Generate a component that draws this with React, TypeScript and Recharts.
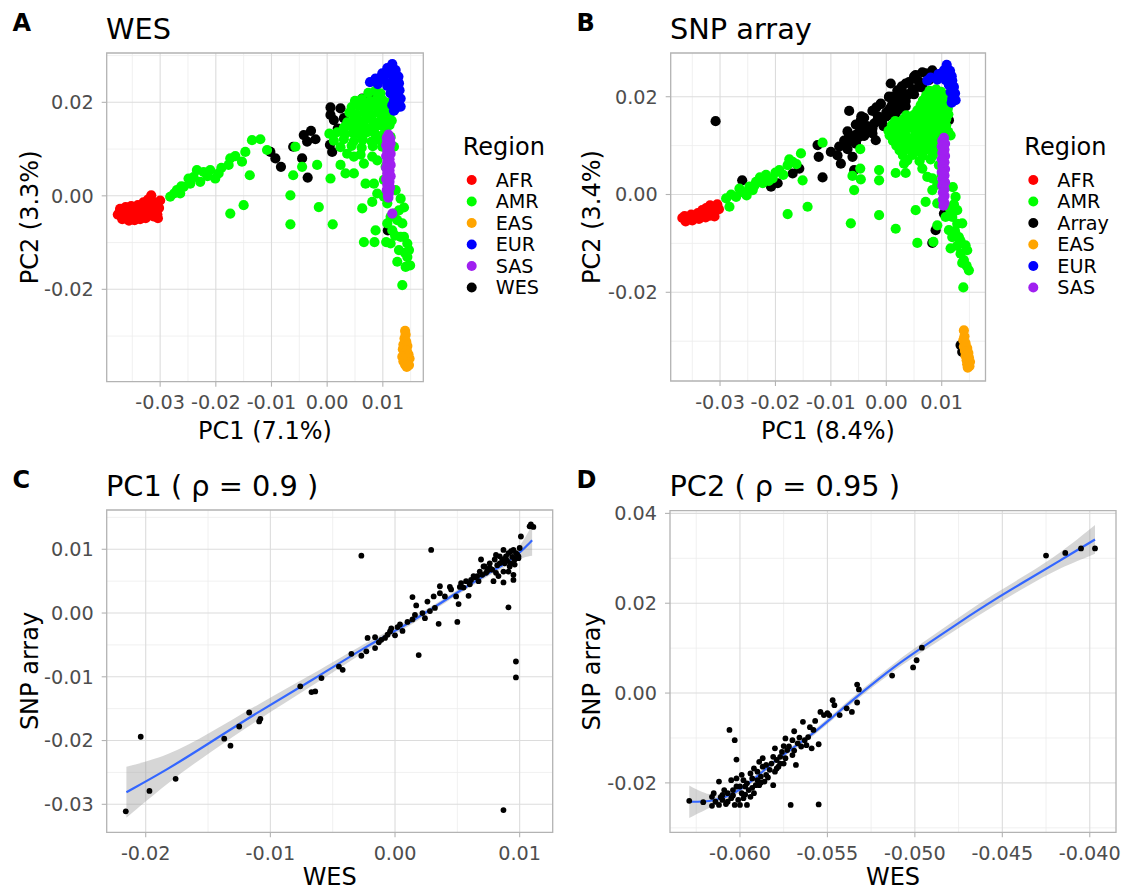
import { ScatterChart, ComposedChart, Scatter, Line, Area, XAxis, YAxis, CartesianGrid, ReferenceArea } from 'recharts'

type Pt = [number, number]

const FONT = 'DejaVu Sans'
const BORDER = '#b3b3b3'
const TICK_TEXT = '#4d4d4d'

const regionColor: Record<string, string> = {
  AFR: '#ff0000',
  AMR: '#00ff00',
  EAS: '#ffa500',
  EUR: '#0000ff',
  SAS: '#a020f0',
  WES: '#000000',
  Array: '#000000',
}

// ---- tick values / labels ----
const pcaXTicks = [-0.03, -0.02, -0.01, 0, 0.01]
const pcaXLabels = ['-0.03', '-0.02', '-0.01', '0.00', '0.01']
const pcaYTicks = [-0.02, 0, 0.02]
const pcaYLabels = ['-0.02', '0.00', '0.02']
const pcaXMinor = [-0.035, -0.025, -0.015, -0.005, 0.005, 0.015]

const c1XTicks = [-0.02, -0.01, 0, 0.01]
const c1XLabels = ['-0.02', '-0.01', '0.00', '0.01']
const c1YTicks = [-0.03, -0.02, -0.01, 0, 0.01]
const c1YLabels = ['-0.03', '-0.02', '-0.01', '0.00', '0.01']

const c2XTicks = [-0.06, -0.055, -0.05, -0.045, -0.04]
const c2XLabels = ['-0.060', '-0.055', '-0.050', '-0.045', '-0.040']
const c2YTicks = [-0.02, 0, 0.02, 0.04]
const c2YLabels = ['-0.02', '0.00', '0.02', '0.04']

// ---- panel A: WES PCA ----
const wesLegend = ['AFR', 'AMR', 'EAS', 'EUR', 'SAS', 'WES']

const wesWES: Pt[] = [
  [0.0006, 0.0189], [0.0024, 0.0187], [0.0012, 0.0162], [0.0006, 0.0173], [0.003, 0.0166], [0.0063, 0.0208],
  [-0.0042, 0.013], [-0.0029, 0.0139], [-0.0021, 0.0121], [-0.0036, 0.0116], [-0.0061, 0.0105], [-0.0102, 0.0094],
  [-0.0093, 0.008], [-0.0083, 0.0062], [-0.0045, 0.008], [-0.0035, 0.0039], [0.0005, 0.0109], [0.0009, 0.0094],
  [0.0019, 0.0144], [0.0109, -0.0074], [0.0078, 0.0212],
]

const wesAMR: Pt[] = [
  [-0.0282, -0.0002], [-0.027, 0.0012], [-0.0258, 0.0019], [-0.0249, 0.0037], [-0.0234, 0.0055], [-0.0222, 0.0051],
  [-0.021, 0.0055], [-0.0195, 0.0048], [-0.0228, 0.003], [-0.0264, 0.0005], [-0.0246, 0.0026], [-0.0201, 0.0037],
  [-0.0174, 0.008], [-0.0177, 0.0066], [-0.0147, 0.0094], [-0.0153, 0.0073], [-0.0135, 0.0119], [-0.012, 0.0121],
  [-0.0108, 0.0098], [-0.0139, 0.0044], [-0.015, -0.002], [-0.0174, -0.0038], [-0.0066, 0.0001], [-0.0066, -0.0061],
  [-0.0057, 0.0105], [-0.0061, 0.0044], [-0.0045, 0.0062], [-0.0018, 0.0066], [-0.0015, -0.0024], [0.0006, 0.0037],
  [0.001, -0.0061], [0.0024, 0.0066], [0.0033, 0.0048], [0.0048, 0.0048], [0.0066, 0.0069], [0.0069, 0.0026],
  [0.0063, -0.0027], [0.0084, 0.0026], [0.0087, -0.0074], [0.0066, -0.0099], [0.0085, -0.0099], [0.0106, -0.0099],
  [0.0114, -0.0102], [0.0126, -0.0141], [0.0135, -0.0191], [0.0141, -0.0152], [0.0149, -0.0149], [0.0147, -0.0116],
  [0.0138, -0.0088], [0.0135, -0.0059], [0.0129, -0.0031], [0.0132, -0.0006], [0.0123, 0.0012], [0.0114, -0.0045],
  [0.0108, -0.0016], [0.0081, -0.0013], [0.009, 0.0005], [0.0102, -0.0002], [0.0108, -0.0059], [0.0117, -0.0074],
  [0.0132, -0.0088], [0.0144, -0.0102], [0.0144, -0.0131], [0.0129, -0.0116], [0.012, -0.0038], [0.0099, 0.0105],
  [0.0081, 0.0084], [0.0105, 0.0062], [0.0102, 0.0034], [0.009, 0.0076], [0.0048, 0.0084], [0.012, 0.0105],
  [0.0114, 0.0126], [-0.0275, 0.0005], [-0.0262, 0.002], [-0.024, 0.004], [-0.0215, 0.0042], [-0.019, 0.006],
  [-0.0165, 0.0085], [0.0138, -0.0025], [0.0126, -0.0052], [0.014, -0.0122], [0.0122, -0.0085],
  [0.0074, 0.022], [0.0086, 0.0224], [0.0096, 0.0219],
  [0.005, 0.0203], [0.0062, 0.0207], [0.0076, 0.0202], [0.0088, 0.0206], [0.01, 0.0204], [0.0108, 0.0199],
  [0.0044, 0.019], [0.0056, 0.0193], [0.0066, 0.0188], [0.0078, 0.0192], [0.009, 0.0189], [0.0102, 0.0193], [0.0112, 0.0187],
  [0.004, 0.0178], [0.0054, 0.0174], [0.0068, 0.0177], [0.008, 0.0173], [0.0092, 0.0178], [0.0104, 0.0175], [0.0114, 0.0179],
  [0.0036, 0.0157], [0.0048, 0.0163], [0.0058, 0.016], [0.007, 0.0164], [0.0082, 0.016], [0.0094, 0.0159], [0.0106, 0.0164], [0.0116, 0.0161],
  [0.003, 0.0146], [0.0042, 0.015], [0.0054, 0.0146], [0.0066, 0.0149], [0.0078, 0.0145], [0.009, 0.015], [0.0102, 0.0147], [0.0112, 0.0151],
  [0.0004, 0.0133], [0.0018, 0.0136], [0.0032, 0.0132], [0.0046, 0.0135], [0.006, 0.0131], [0.0072, 0.0136], [0.0086, 0.0133], [0.01, 0.013],
  [0.0012, 0.0118], [0.003, 0.0121], [0.0048, 0.0117], [0.0064, 0.012], [0.008, 0.0116], [0.0094, 0.0119],
  [0.0024, 0.0104], [0.0044, 0.0107], [0.0062, 0.0103], [0.0082, 0.0106],
  [0.0036, 0.009], [0.006, 0.0088],
]

const wesAFR: Pt[] = [
  [-0.0373, -0.0036], [-0.037, -0.0044], [-0.0366, -0.0032], [-0.0363, -0.0042], [-0.036, -0.0049], [-0.0357, -0.0035],
  [-0.0354, -0.0043], [-0.035, -0.0029], [-0.0348, -0.004], [-0.0345, -0.0047], [-0.0342, -0.0033], [-0.0338, -0.0041],
  [-0.0335, -0.0026], [-0.0332, -0.0036], [-0.0328, -0.0044], [-0.0325, -0.003], [-0.0322, -0.0018], [-0.032, -0.0038],
  [-0.0318, -0.0026], [-0.0316, 0.0001], [-0.0314, -0.0012], [-0.031, -0.0032], [-0.0308, -0.002], [-0.0305, -0.004],
  [-0.0302, -0.0026], [-0.03, -0.001], [-0.033, -0.0014], [-0.034, -0.002], [-0.0376, -0.004], [-0.0372, -0.0028],
  [-0.0368, -0.005], [-0.0362, -0.0024], [-0.0356, -0.0053], [-0.0352, -0.0022], [-0.0346, -0.0052], [-0.0336, -0.005],
  [-0.0326, -0.0048], [-0.0322, -0.0008], [-0.0312, -0.0044], [-0.0304, -0.0048],
]

const wesEUR: Pt[] = [
  [0.0117, 0.0282], [0.0108, 0.0273], [0.0123, 0.0269], [0.0099, 0.0262], [0.0114, 0.0261], [0.0128, 0.0255],
  [0.0087, 0.0251], [0.0102, 0.0249], [0.0117, 0.0244], [0.0129, 0.0241], [0.0077, 0.0243], [0.0091, 0.0239],
  [0.0108, 0.0235], [0.012, 0.023], [0.013, 0.0226], [0.0114, 0.0219], [0.0126, 0.0216], [0.0132, 0.0208],
  [0.012, 0.0205], [0.0129, 0.0198], [0.0117, 0.0194], [0.0123, 0.0187], [0.0132, 0.0191], [0.012, 0.0182],
]

const wesSAS: Pt[] = [
  [0.011, 0.0131], [0.0107, 0.0124], [0.0113, 0.0123], [0.0108, 0.0116], [0.0114, 0.0112], [0.0106, 0.0108],
  [0.0112, 0.0102], [0.0108, 0.0096], [0.0114, 0.009], [0.0106, 0.0085], [0.0112, 0.0078], [0.0108, 0.0072],
  [0.0114, 0.0066], [0.0106, 0.006], [0.0112, 0.0054], [0.0108, 0.0048], [0.0114, 0.0042], [0.0106, 0.0036],
  [0.0112, 0.003], [0.0108, 0.0024], [0.0113, 0.0018], [0.0107, 0.0012], [0.0111, 0.0006], [0.0109, 0.0],
  [0.011, -0.0004], [0.0117, -0.0038],
]

const wesEAS: Pt[] = [
  [0.014, -0.0289], [0.0141, -0.0297], [0.0139, -0.0305], [0.0142, -0.0312], [0.0137, -0.0318], [0.0144, -0.0321],
  [0.0136, -0.0328], [0.0143, -0.0331], [0.0139, -0.0337], [0.0146, -0.0339], [0.0135, -0.0344], [0.0142, -0.0347],
  [0.0148, -0.0348], [0.0137, -0.0354], [0.0145, -0.0356], [0.014, -0.0361], [0.0147, -0.0362], [0.0143, -0.0366],
]

// ---- panel B: SNP array PCA ----
const snpLegend = ['AFR', 'AMR', 'Array', 'EAS', 'EUR', 'SAS']

const snpArray: Pt[] = [
  [-0.0308, 0.015], [-0.026, 0.0029], [-0.0208, 0.0016], [-0.0196, 0.0023], [-0.0157, 0.0053], [-0.0169, 0.0043],
  [-0.0124, 0.0101], [-0.0122, 0.0077], [-0.0115, 0.0035], [-0.01, 0.0087], [-0.0088, 0.008], [-0.0082, 0.0063],
  [-0.0061, 0.0077], [-0.0076, 0.011], [-0.0067, 0.0121], [-0.0067, 0.0171], [-0.0058, 0.005], [-0.0046, 0.0152],
  [-0.004, 0.0135], [-0.0025, 0.0125], [-0.0016, 0.0152], [-0.001, 0.0186], [0.0008, 0.0227], [0.0005, 0.0173],
  [0.0011, 0.0186], [0.0023, 0.0196], [0.0035, 0.02], [0.0053, 0.0244], [0.0059, 0.022], [0.0071, 0.0248],
  [0.0083, 0.0254], [0.0047, 0.0213], [-0.0019, 0.0111], [-0.0031, 0.0132], [-0.0049, 0.0118], [-0.0055, 0.0104],
  [-0.0085, 0.0098], [-0.0001, 0.0159], [0.0017, 0.0166], [0.0035, 0.018], [0.0029, 0.021], [0.0041, 0.023],
  [0.0065, 0.0227], [0.0077, 0.0234], [0.0089, -0.0073], [0.0083, -0.0099], [0.0134, -0.0308], [0.0137, -0.0322],
  [0.0104, -0.0039], [0.0113, 0.0152], [0.0012, 0.02], [-0.0005, 0.014], [0.0025, 0.0175],
  [-0.0075, 0.01], [-0.0068, 0.0112], [-0.006, 0.0108], [-0.0055, 0.0122], [-0.0048, 0.0128], [-0.004, 0.012],
  [-0.0035, 0.014], [-0.0028, 0.0132], [-0.0022, 0.0145], [-0.0015, 0.016], [-0.0008, 0.015], [0.0, 0.0168],
  [0.0008, 0.0178], [0.0015, 0.019], [0.0022, 0.0182], [0.003, 0.0198], [0.004, 0.0205], [0.0048, 0.0215],
  [-0.0045, 0.016], [0.0005, 0.02], [0.002, 0.0205],
  [-0.007, 0.0093], [-0.007, 0.0129], [-0.0055, 0.0107], [-0.0055, 0.0143], [-0.004, 0.0121], [-0.004, 0.0157],
  [-0.0025, 0.0135], [-0.0025, 0.0171], [-0.001, 0.0149], [-0.001, 0.0185], [0.0005, 0.0163], [0.0005, 0.0199],
  [0.002, 0.0177], [0.002, 0.0213], [0.0035, 0.0191], [0.0035, 0.0227], [0.005, 0.0205], [0.005, 0.0241],
  [0.0065, 0.0219], [0.0065, 0.025], [0.0058, 0.0232], [0.0028, 0.0221], [-0.0018, 0.0178], [-0.0048, 0.0138],
]

const snpAMR: Pt[] = [
  [-0.0289, -0.0008], [-0.0283, -0.0025], [-0.0271, -0.0005], [-0.0259, 0.0005], [-0.0247, 0.0016], [-0.0235, 0.0026],
  [-0.0217, 0.004], [-0.0205, 0.0033], [-0.0193, 0.005], [-0.0178, 0.006], [-0.0169, 0.0067], [-0.0154, 0.0084],
  [-0.0115, 0.0106], [-0.0151, 0.0029], [-0.0142, -0.0025], [-0.0178, -0.004], [-0.0223, 0.0023], [-0.0241, 0.0009],
  [-0.0064, -0.0059], [-0.0061, 0.0038], [-0.0058, 0.0009], [-0.0047, 0.0093], [-0.0047, 0.0053], [-0.0046, 0.0031],
  [-0.0013, 0.005], [-0.0013, 0.0029], [-0.0013, -0.0042], [0.0017, -0.007], [0.0017, 0.0044], [0.0035, 0.0044],
  [0.0053, -0.0032], [0.0056, -0.0099], [0.0085, -0.0097], [0.0071, -0.0015], [0.0083, 0.0009], [0.0092, -0.0018],
  [0.0065, 0.0053], [0.0074, 0.0036], [0.0092, -0.0063], [0.0113, -0.0073], [0.0119, -0.0087], [0.0116, -0.011],
  [0.0131, -0.0087], [0.0134, -0.0121], [0.014, -0.0134], [0.0149, -0.0155], [0.0146, -0.0114], [0.0139, -0.019],
  [0.0128, -0.0032], [0.0125, -0.0005], [0.0119, -0.0046], [0.0107, -0.0046], [0.0137, -0.0059], [0.0116, 0.0121],
  [0.0083, 0.0033], [0.0032, 0.0063], [0.0038, 0.007], [0.0122, -0.002], [0.0128, -0.006], [0.0124, -0.0075],
  [0.0134, -0.0095], [0.0128, -0.0105], [0.0143, -0.0104], [0.0137, -0.014], [0.0145, -0.0146], [0.012, 0.0015],
  [0.0115, -0.003], [0.01, 0.004], [0.0092, 0.002], [0.0095, 0.006],
  [-0.028, 0.0], [-0.0265, 0.0012], [-0.0252, -0.0002], [-0.0238, 0.0018], [-0.0228, 0.0035], [-0.0212, 0.0028],
  [-0.02, 0.0045], [-0.0186, 0.004], [-0.0175, 0.0072], [-0.0162, 0.0062],
  [0.0078, 0.0212], [0.009, 0.0215], [0.0099, 0.021],
  [0.0072, 0.0203], [0.0084, 0.0204], [0.0095, 0.0202], [0.0105, 0.0203],
  [0.0066, 0.0192], [0.0078, 0.0196], [0.009, 0.0191], [0.01, 0.0195], [0.0108, 0.019],
  [0.0062, 0.0183], [0.0074, 0.0184], [0.0086, 0.0182], [0.0097, 0.0184], [0.0107, 0.0182],
  [0.0056, 0.0172], [0.0068, 0.0175], [0.008, 0.0171], [0.0092, 0.0174], [0.0103, 0.017], [0.0111, 0.0176],
  [0.0036, 0.0162], [0.005, 0.0163], [0.0064, 0.0161], [0.0078, 0.0163], [0.009, 0.0161], [0.0102, 0.0162], [0.0112, 0.0164],
  [0.0016, 0.015], [0.003, 0.0153], [0.0044, 0.0149], [0.0058, 0.0154], [0.0072, 0.015], [0.0084, 0.0153], [0.0096, 0.0149], [0.0108, 0.0154],
  [0.001, 0.0142], [0.0024, 0.0141], [0.004, 0.0143], [0.0054, 0.0141], [0.0068, 0.0143], [0.0082, 0.014], [0.0096, 0.0142], [0.0108, 0.0141],
  [0.0004, 0.013], [0.0018, 0.0134], [0.0034, 0.0131], [0.0048, 0.0135], [0.0062, 0.013], [0.0076, 0.0133], [0.009, 0.0129], [0.0102, 0.0134], [0.0112, 0.0128],
  [0.0006, 0.0121], [0.002, 0.0122], [0.0036, 0.012], [0.0052, 0.0122], [0.0066, 0.012], [0.008, 0.0122], [0.0094, 0.012], [0.0106, 0.0121],
  [0.0012, 0.011], [0.0028, 0.0113], [0.0044, 0.0109], [0.0058, 0.0112], [0.0072, 0.0108], [0.0086, 0.0111], [0.0098, 0.0108],
  [0.0018, 0.01], [0.0034, 0.0101], [0.005, 0.0099], [0.0064, 0.0101], [0.008, 0.01], [0.0094, 0.0099],
  [0.0024, 0.009], [0.004, 0.0093], [0.0056, 0.0089], [0.0072, 0.0092], [0.0088, 0.009],
  [0.003, 0.008], [0.0048, 0.0081], [0.0066, 0.0079], [0.0084, 0.008],
  [0.0036, 0.007], [0.006, 0.0068], [0.008, 0.0072],
]

const snpAFR: Pt[] = [
  [-0.0368, -0.0048], [-0.0364, -0.0044], [-0.036, -0.0051], [-0.0356, -0.0046], [-0.0352, -0.0041], [-0.0348, -0.0048],
  [-0.0344, -0.0043], [-0.034, -0.0038], [-0.0336, -0.0045], [-0.0332, -0.004], [-0.0328, -0.0034], [-0.0324, -0.0041],
  [-0.032, -0.0036], [-0.0316, -0.003], [-0.0312, -0.0037], [-0.0308, -0.0026], [-0.0305, -0.002], [-0.0306, -0.0032],
  [-0.0362, -0.0055], [-0.035, -0.0053], [-0.0338, -0.005], [-0.0326, -0.0047], [-0.0318, -0.0043], [-0.0312, -0.0025],
  [-0.0318, -0.0022], [-0.0325, -0.0028], [-0.0332, -0.0032], [-0.031, -0.0045], [-0.0302, -0.003],
]

const snpEUR: Pt[] = [
  [0.0109, 0.0265], [0.0104, 0.0254], [0.0115, 0.0253], [0.0094, 0.0246], [0.0106, 0.0244], [0.0118, 0.0242],
  [0.008, 0.0239], [0.0092, 0.0235], [0.0107, 0.0234], [0.0119, 0.0233], [0.0074, 0.0233], [0.0113, 0.0224],
  [0.0122, 0.022], [0.0116, 0.021], [0.0124, 0.0207], [0.0119, 0.0196], [0.0125, 0.0193], [0.0118, 0.0188],
]

const snpSAS: Pt[] = [
  [0.0104, 0.0116], [0.0101, 0.011], [0.0106, 0.0104], [0.01, 0.0098], [0.0105, 0.0092], [0.0101, 0.0085],
  [0.0106, 0.0079], [0.01, 0.0072], [0.0105, 0.0066], [0.0101, 0.0059], [0.0106, 0.0052], [0.01, 0.0046],
  [0.0105, 0.0039], [0.0101, 0.0032], [0.0106, 0.0025], [0.0101, 0.0018], [0.0105, 0.0011], [0.0102, 0.0004],
  [0.0105, -0.0003], [0.0102, -0.001], [0.0105, -0.0017], [0.0103, -0.0023],
]

const snpEAS: Pt[] = [
  [0.014, -0.0278], [0.0141, -0.029], [0.0139, -0.0298], [0.0143, -0.0304], [0.014, -0.0311], [0.0146, -0.0314],
  [0.0142, -0.032], [0.0148, -0.0324], [0.0143, -0.033], [0.0149, -0.0333], [0.0145, -0.0339], [0.0151, -0.0342],
  [0.0146, -0.0347], [0.015, -0.0351], [0.0147, -0.0354],
]

// ---- panel C: PC1 WES vs SNP array ----
const pc1Points: Pt[] = [
  [-0.0216, -0.0311], [-0.0204, -0.0194], [-0.0197, -0.0279], [-0.0176, -0.026], [-0.0137, -0.0197], [-0.0132, -0.0208],
  [-0.0125, -0.0178], [-0.0117, -0.0156], [-0.0109, -0.017], [-0.0108, -0.0166], [-0.0076, -0.0115], [-0.0067, -0.0124],
  [-0.0064, -0.0123], [-0.0059, -0.0102], [-0.0045, -0.0084], [-0.0042, -0.0089], [-0.0035, -0.0064], [-0.0027, -0.0067],
  [-0.0027, 0.009], [-0.0023, -0.006], [-0.0022, -0.0039], [-0.0016, -0.0055], [-0.0016, -0.0038], [-0.0011, -0.0042],
  [-0.0008, -0.0039], [-0.0004, -0.0029], [-0.0003, -0.0024], [0.0, -0.0035], [0.0004, -0.0018], [0.0006, -0.0028],
  [0.0014, 0.0025], [0.0014, -0.001], [0.0016, -0.0003], [0.0017, 0.0012], [0.0019, -0.0066], [0.0022, 0.0],
  [0.0024, -0.0008], [0.0029, 0.0099], [0.0028, 0.0003], [0.0032, 0.0008], [0.0031, 0.0026], [0.0035, -0.0017],
  [0.0036, 0.0042], [0.0036, 0.0031], [0.004, 0.0026], [0.0044, 0.0041], [0.0045, 0.0037], [0.005, -0.0014],
  [0.0051, 0.0014], [0.0049, 0.0026], [0.0052, 0.0041], [0.0053, 0.0047], [0.0059, 0.0027], [0.0057, 0.005],
  [0.0061, 0.0052], [0.0064, 0.0056], [0.0067, 0.005], [0.0069, 0.0084], [0.0071, 0.0073], [0.0073, 0.0063],
  [0.0076, 0.0071], [0.0079, 0.005], [0.0081, 0.0091], [0.0083, 0.0058], [0.0084, 0.0078], [0.0087, 0.0099],
  [0.0087, 0.0048], [0.0088, 0.0078], [0.0089, 0.0089], [0.0091, 0.0009], [0.0087, -0.0309], [0.0092, 0.0073],
  [0.0093, 0.0097], [0.0095, 0.006], [0.0096, 0.0084], [0.0095, 0.0052], [0.0097, 0.0094], [0.0097, -0.0076],
  [0.0097, -0.0101], [0.0099, 0.0086], [0.01, 0.0102], [0.0101, 0.012], [0.0095, 0.0099], [0.0091, 0.0094],
  [0.0084, 0.0089], [0.008, 0.0084], [0.0076, 0.0078], [0.0072, 0.0073], [0.0068, 0.0065], [0.0063, 0.0058],
  [0.0109, 0.0139], [0.0111, 0.0135], [0.0108, 0.0136], [0.0099, 0.0089], [0.0096, 0.0076], [0.0093, 0.0078],
  [0.0091, 0.0065], [0.0087, 0.0065], [0.0081, 0.0063], [0.0098, 0.0092], [0.0094, 0.0088], [0.009, 0.0082],
  [0.0086, 0.0084], [0.0082, 0.0075], [0.0078, 0.0068], [0.0074, 0.0066], [0.007, 0.006], [0.0066, 0.0058],
  [0.006, 0.0045], [0.0055, 0.004], [-0.0013, -0.0046], [-0.0006, -0.0034], [0.0002, -0.0022], [0.001, -0.0014],
  [0.0026, 0.0018],
]

// smoothed fit, with its confidence band
const pc1FitX = [-0.02155, -0.0183, -0.0149, -0.0109, -0.0066, -0.0023, 0.0004, 0.002, 0.0041, 0.0057, 0.0073, 0.0089, 0.01, 0.011]
const pc1FitY = [-0.0281, -0.0246, -0.0204, -0.0154, -0.0105, -0.0052, -0.0024, -0.0005, 0.0021, 0.0041, 0.006, 0.0078, 0.0094, 0.0114]
const pc1FitLo = [-0.0321, -0.0267, -0.0219, -0.0166, -0.0114, -0.0058, -0.0029, -0.001, 0.0017, 0.0037, 0.0056, 0.0073, 0.0086, 0.009]
const pc1FitHi = [-0.0241, -0.0225, -0.0189, -0.0142, -0.0096, -0.0046, -0.0019, 0.0, 0.0025, 0.0045, 0.0064, 0.0083, 0.0102, 0.0138]

// ---- panel D: PC2 WES vs SNP array ----
const pc2Points: Pt[] = [
  [-0.0629, -0.024], [-0.0621, -0.0243], [-0.0616, -0.0251], [-0.0615, -0.0223], [-0.0612, -0.0197], [-0.0606, -0.0082],
  [-0.0603, -0.0105], [-0.0602, -0.0148], [-0.0612, -0.0249], [-0.061, -0.0238], [-0.0608, -0.0247], [-0.061, -0.0227],
  [-0.0607, -0.0223], [-0.0605, -0.0234], [-0.0604, -0.0216], [-0.0603, -0.0249], [-0.0601, -0.0238], [-0.06, -0.0249],
  [-0.0599, -0.0223], [-0.0598, -0.0234], [-0.0596, -0.0249], [-0.0597, -0.0208], [-0.0595, -0.0216], [-0.0594, -0.0231],
  [-0.0592, -0.0223], [-0.0605, -0.0194], [-0.0602, -0.019], [-0.0599, -0.0182], [-0.0596, -0.0201], [-0.0594, -0.0179],
  [-0.0591, -0.0205], [-0.059, -0.0194], [-0.0589, -0.0205], [-0.059, -0.0175], [-0.0588, -0.0186], [-0.0587, -0.0164],
  [-0.0586, -0.0197], [-0.0585, -0.0182], [-0.0583, -0.0171], [-0.0582, -0.0157], [-0.0581, -0.0205], [-0.058, -0.0175],
  [-0.0579, -0.0149], [-0.0578, -0.0164], [-0.0577, -0.0142], [-0.0576, -0.0131], [-0.0575, -0.0157], [-0.0574, -0.0101],
  [-0.0573, -0.0127], [-0.0572, -0.0119], [-0.0571, -0.0249], [-0.057, -0.0105], [-0.057, -0.0138], [-0.0569, -0.0085],
  [-0.0568, -0.016], [-0.0567, -0.0112], [-0.0566, -0.0099], [-0.0565, -0.0119], [-0.0564, -0.0064], [-0.0563, -0.0105],
  [-0.0562, -0.0116], [-0.056, -0.0076], [-0.0559, -0.0123], [-0.0558, -0.0082], [-0.0557, -0.0062], [-0.0555, -0.0114],
  [-0.0555, -0.0248], [-0.0554, -0.0042], [-0.0552, -0.0049], [-0.055, -0.0045], [-0.0549, -0.0049], [-0.0547, -0.0016],
  [-0.0546, -0.0027], [-0.0543, -0.0049], [-0.0539, -0.0034], [-0.0536, -0.0042], [-0.0533, -0.0021], [-0.0533, 0.0019],
  [-0.0532, 0.0008], [-0.0513, 0.0039], [-0.0501, 0.0057], [-0.0499, 0.0073], [-0.0496, 0.0101], [-0.0425, 0.0306],
  [-0.0414, 0.0312], [-0.0405, 0.0322], [-0.0397, 0.0322], [-0.0609, -0.0216], [-0.0602, -0.0208], [-0.06, -0.0208],
  [-0.0598, -0.0194], [-0.0593, -0.019], [-0.0592, -0.0168], [-0.0589, -0.0153], [-0.0587, -0.0145], [-0.0585, -0.016],
  [-0.0581, -0.0142], [-0.058, -0.0123], [-0.0577, -0.0157], [-0.0575, -0.0118], [-0.0607, -0.0242], [-0.0614, -0.0242],
  [-0.0616, -0.0231], [-0.0611, -0.0232], [-0.0604, -0.0228], [-0.0597, -0.0226], [-0.0593, -0.0211], [-0.0588, -0.0199],
  [-0.0584, -0.0188], [-0.0579, -0.0168], [-0.0574, -0.0145], [-0.0569, -0.0128], [-0.0561, -0.0098],
]

const pc2FitX = [-0.0629, -0.0617, -0.0608, -0.06, -0.059, -0.0581, -0.057, -0.0558, -0.0547, -0.0531, -0.0512, -0.0493, -0.0474, -0.0455, -0.0436, -0.0417, -0.0397]
const pc2FitY = [-0.0242, -0.0242, -0.0232, -0.0216, -0.0186, -0.0153, -0.0123, -0.009, -0.0053, -0.0001, 0.0059, 0.0109, 0.0159, 0.0207, 0.0251, 0.0295, 0.0342]
const pc2FitLo = [-0.0278, -0.0254, -0.024, -0.0222, -0.0192, -0.0159, -0.0129, -0.0096, -0.0059, -0.0008, 0.0051, 0.0099, 0.0147, 0.0194, 0.0238, 0.0279, 0.031]
const pc2FitHi = [-0.0206, -0.023, -0.0224, -0.021, -0.018, -0.0147, -0.0117, -0.0084, -0.0047, 0.0006, 0.0067, 0.0119, 0.0171, 0.022, 0.0264, 0.0311, 0.0374]

// ---------------------------------------------------------------

interface Frame {
  left: number
  top: number
  width: number
  height: number
  margin: { top: number; right: number; bottom: number; left: number }
  yAxisWidth: number
  xAxisHeight: number
  xDomain: [number, number]
  yDomain: [number, number]
  xTicks: number[]
  xLabels: string[]
  xMinor: number[]
  yTicks: number[]
  yLabels: string[]
  yMinor: number[]
}

const toRows = (pts: Pt[]) => pts.map(([x, y]) => ({ x, y }))

const dot = (r: number, color: string) => (p: any) => <circle cx={p.cx} cy={p.cy} r={r} fill={color} />

function frameParts(f: Frame) {
  const tick = { fill: TICK_TEXT, fontSize: 19.2, fontFamily: FONT }
  return [
    <CartesianGrid key="minor" stroke="#ececec" strokeWidth={0.8} verticalValues={f.xMinor} horizontalValues={f.yMinor} />,
    <CartesianGrid key="major" stroke="#dcdcdc" strokeWidth={1.1} verticalValues={f.xTicks} horizontalValues={f.yTicks} />,
    <XAxis
      key="x"
      type="number"
      dataKey="x"
      domain={f.xDomain}
      allowDataOverflow
      ticks={f.xTicks}
      interval={0}
      tickFormatter={(v: number) => f.xLabels[f.xTicks.indexOf(v)] ?? ''}
      height={f.xAxisHeight}
      axisLine={false}
      tickLine={{ stroke: BORDER, strokeWidth: 1.1 }}
      tickSize={5}
      tickMargin={9}
      tick={tick}
    />,
    <YAxis
      key="y"
      type="number"
      dataKey="y"
      domain={f.yDomain}
      allowDataOverflow
      ticks={f.yTicks}
      interval={0}
      tickFormatter={(v: number) => f.yLabels[f.yTicks.indexOf(v)] ?? ''}
      width={f.yAxisWidth}
      axisLine={false}
      tickLine={{ stroke: BORDER, strokeWidth: 1.1 }}
      tickSize={5}
      tickMargin={8}
      tick={tick}
    />,
    <ReferenceArea
      key="border"
      x1={f.xDomain[0]}
      x2={f.xDomain[1]}
      y1={f.yDomain[0]}
      y2={f.yDomain[1]}
      fill="none"
      stroke={BORDER}
      strokeWidth={1.3}
      ifOverflow="visible"
    />,
  ]
}

function PcaPanel({ frame, groups }: { frame: Frame; groups: { key: string; pts: Pt[] }[] }) {
  return (
    <div style={{ position: 'absolute', left: frame.left, top: frame.top }}>
      <ScatterChart width={frame.width} height={frame.height} margin={frame.margin}>
        {frameParts(frame)}
        {groups.map((g) => (
          <Scatter key={g.key} data={toRows(g.pts)} isAnimationActive={false} shape={dot(5.1, regionColor[g.key])} />
        ))}
      </ScatterChart>
    </div>
  )
}

function FitPanel({ frame, pts, fitX, fitY, fitLo, fitHi }: { frame: Frame; pts: Pt[]; fitX: number[]; fitY: number[]; fitLo: number[]; fitHi: number[] }) {
  const fit = fitX.map((x, i) => ({ x, y: fitY[i], band: [fitLo[i], fitHi[i]] }))
  return (
    <div style={{ position: 'absolute', left: frame.left, top: frame.top }}>
      <ComposedChart width={frame.width} height={frame.height} margin={frame.margin} data={fit}>
        {frameParts(frame)}
        <Scatter data={toRows(pts)} isAnimationActive={false} shape={dot(2.9, '#000000')} />
        <Area dataKey="band" type="basis" fill="#999999" fillOpacity={0.4} stroke="none" isAnimationActive={false} />
        <Line dataKey="y" type="basis" stroke="#3366ff" strokeWidth={2.2} dot={false} isAnimationActive={false} />
      </ComposedChart>
    </div>
  )
}

const frameA: Frame = {
  left: 0, top: 0, width: 430, height: 420,
  margin: { top: 53, right: 6.7, bottom: 0, left: 0 },
  yAxisWidth: 106.7, xAxisHeight: 38.3,
  xDomain: [-0.0396, 0.01727], yDomain: [-0.03976, 0.03055],
  xTicks: pcaXTicks, xLabels: pcaXLabels, xMinor: pcaXMinor,
  yTicks: pcaYTicks, yLabels: pcaYLabels, yMinor: [-0.03, -0.01, 0.01, 0.03],
}

const frameB: Frame = {
  left: 560, top: 0, width: 432, height: 420,
  margin: { top: 53, right: 6.5, bottom: 0, left: 0 },
  yAxisWidth: 110.7, xAxisHeight: 39,
  xDomain: [-0.0389, 0.0179], yDomain: [-0.03814, 0.02894],
  xTicks: pcaXTicks, xLabels: pcaXLabels, xMinor: pcaXMinor,
  yTicks: pcaYTicks, yLabels: pcaYLabels, yMinor: [-0.03, -0.01, 0.01],
}

const frameC: Frame = {
  left: 0, top: 460, width: 560, height: 431,
  margin: { top: 50, right: 7.3, bottom: 0, left: 0 },
  yAxisWidth: 106.7, xAxisHeight: 58.7,
  xDomain: [-0.02313, 0.01265], yDomain: [-0.03439, 0.01616],
  xTicks: c1XTicks, xLabels: c1XLabels, xMinor: [-0.015, -0.005, 0.005],
  yTicks: c1YTicks, yLabels: c1YLabels, yMinor: [-0.025, -0.015, -0.005, 0.005, 0.015],
}

const frameD: Frame = {
  left: 560, top: 460, width: 565, height: 431,
  margin: { top: 50.7, right: 9, bottom: 0, left: 0 },
  yAxisWidth: 110, xAxisHeight: 58.7,
  xDomain: [-0.064, -0.0385], yDomain: [-0.031, 0.0406],
  xTicks: c2XTicks, xLabels: c2XLabels, xMinor: [-0.0625, -0.0575, -0.0525, -0.0475, -0.0425],
  yTicks: c2YTicks, yLabels: c2YLabels, yMinor: [-0.03, -0.01, 0.01, 0.03],
}

function Legend({ x, names }: { x: number; names: string[] }) {
  return (
    <g fontFamily={FONT}>
      <text x={x} y={155} fontSize={24} fill="#000">Region</text>
      {names.map((n, i) => (
        <g key={n}>
          <circle cx={x + 9} cy={180 + i * 21.5} r={5} fill={regionColor[n]} />
          <text x={x + 33} y={180 + i * 21.5} dy="0.36em" fontSize={19.2} fill="#000">{n}</text>
        </g>
      ))}
    </g>
  )
}

function YTitle({ x, y, text }: { x: number; y: number; text: string }) {
  return (
    <text x={x} y={y} transform={`rotate(-90 ${x} ${y})`} textAnchor="middle" dy="0.36em" fontSize={24} fill="#000">
      {text}
    </text>
  )
}

export default function App() {
  return (
    <div style={{ position: 'absolute', left: 0, top: 0, width: 1125, height: 891, background: '#ffffff', overflow: 'hidden' }}>
      <PcaPanel
        frame={frameA}
        groups={[
          { key: 'WES', pts: wesWES },
          { key: 'AMR', pts: wesAMR },
          { key: 'AFR', pts: wesAFR },
          { key: 'EUR', pts: wesEUR },
          { key: 'SAS', pts: wesSAS },
          { key: 'EAS', pts: wesEAS },
        ]}
      />
      <PcaPanel
        frame={frameB}
        groups={[
          { key: 'Array', pts: snpArray },
          { key: 'AMR', pts: snpAMR },
          { key: 'AFR', pts: snpAFR },
          { key: 'EUR', pts: snpEUR },
          { key: 'SAS', pts: snpSAS },
          { key: 'EAS', pts: snpEAS },
        ]}
      />
      <FitPanel frame={frameC} pts={pc1Points} fitX={pc1FitX} fitY={pc1FitY} fitLo={pc1FitLo} fitHi={pc1FitHi} />
      <FitPanel frame={frameD} pts={pc2Points} fitX={pc2FitX} fitY={pc2FitY} fitLo={pc2FitLo} fitHi={pc2FitHi} />

      <svg width={1125} height={891} style={{ position: 'absolute', left: 0, top: 0, pointerEvents: 'none' }} fontFamily={FONT}>
        <text x={12.5} y={31.4} fontSize={24} fontWeight="bold">A</text>
        <text x={576.5} y={31.4} fontSize={24} fontWeight="bold">B</text>
        <text x={12.5} y={488} fontSize={24} fontWeight="bold">C</text>
        <text x={576.5} y={488} fontSize={24} fontWeight="bold">D</text>

        <text x={106} y={38.6} fontSize={28.8}>WES</text>
        <text x={670} y={38.6} fontSize={28.8}>SNP array</text>
        <text x={106} y={495.7} fontSize={28.8}>PC1 ( ρ = 0.9 )</text>
        <text x={669.5} y={495.7} fontSize={28.8}>PC2 ( ρ = 0.95 )</text>

        <text x={265} y={439} textAnchor="middle" fontSize={24}>PC1 (7.1%)</text>
        <text x={828} y={439} textAnchor="middle" fontSize={24}>PC1 (8.4%)</text>
        <text x={329.7} y={885} textAnchor="middle" fontSize={24}>WES</text>
        <text x={893} y={885} textAnchor="middle" fontSize={24}>WES</text>

        <YTitle x={29} y={217.4} text="PC2 (3.3%)" />
        <YTitle x={591} y={217} text="PC2 (3.4%)" />
        <YTitle x={29} y={671} text="SNP array" />
        <YTitle x={591} y={671.5} text="SNP array" />

        <Legend x={462.7} names={wesLegend} />
        <Legend x={1024.3} names={snpLegend} />
      </svg>
    </div>
  )
}
